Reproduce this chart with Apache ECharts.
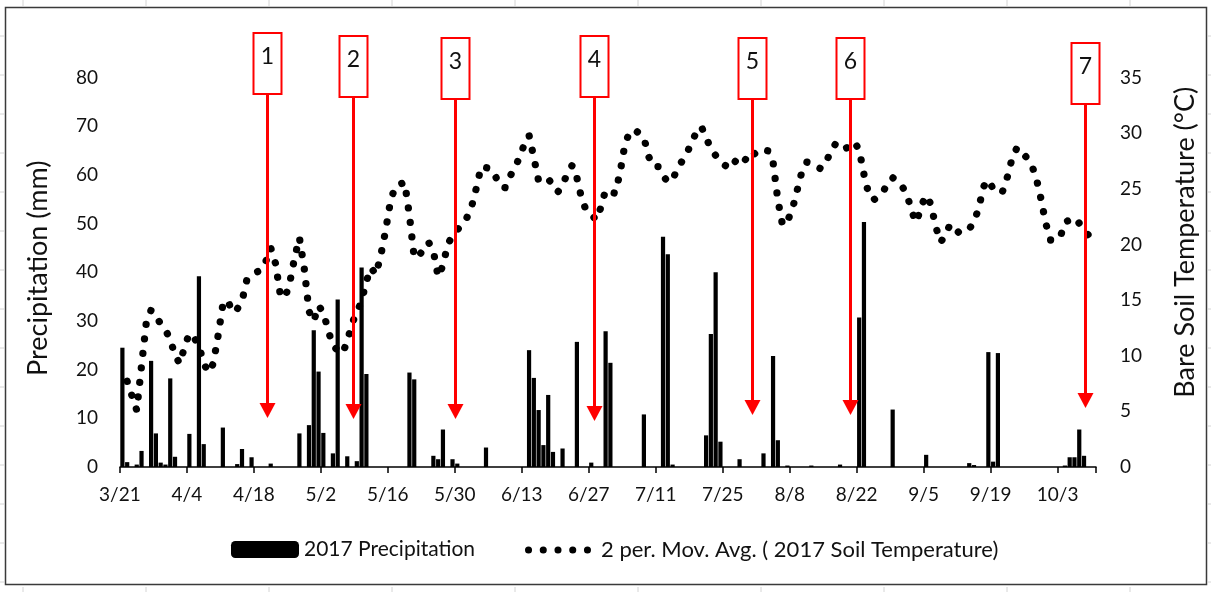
<!DOCTYPE html>
<html><head><meta charset="utf-8">
<script src="https://cdn.jsdelivr.net/npm/echarts@6/dist/echarts.min.js"></script>
<style>html,body{margin:0;padding:0;background:#fff}#c{width:1211px;height:592px}</style>
</head><body><div id="c"></div>
<script>
// ---------- DATA ----------
const startDate = [2017, 3, 21];          // first day on the axis (3/21)
const dayCount = 204;                     // 3/21 .. 10/10
const labelEvery = 14;                    // 3/21, 4/4, 4/18, ...

// daily precipitation (mm), one value per day starting 3/21
const precipitation = [
  24.5, 1.0, 0, 0.5, 3.3, 0, 21.8, 6.9, 0.9, 0.5,
  18.2, 2.1, 0, 0, 6.8, 0, 39.2, 4.7, 0, 0,
  0, 8.1, 0, 0, 0.6, 3.7, 0, 2.0, 0, 0,
  0, 0.7, 0, 0, 0, 0, 0, 6.9, 0, 8.6,
  28.1, 19.6, 7.0, 0, 2.8, 34.4, 0, 2.2, 0, 1.2,
  41.0, 19.1, 0, 0, 0, 0, 0, 0, 0, 0,
  19.4, 18.0, 0, 0, 0, 2.3, 1.6, 7.7, 0, 1.6,
  0.7, 0, 0, 0, 0, 0, 4.0, 0, 0, 0,
  0, 0, 0, 0, 0, 24.0, 18.3, 11.7, 4.5, 14.8,
  3.1, 0, 3.8, 0, 0, 25.7, 0, 0, 0.9, 0,
  0, 27.9, 21.4, 0, 0, 0, 0, 0, 0, 10.8,
  0, 0, 0, 47.3, 43.7, 0.5, 0, 0, 0, 0,
  0, 0, 6.5, 27.3, 40.0, 5.2, 0, 0, 0, 1.6,
  0, 0, 0, 0, 2.8, 0, 22.8, 5.5, 0, 0.3,
  0, 0, 0, 0, 0.3, 0, 0, 0, 0, 0,
  0.5, 0, 0, 0, 30.7, 50.3, 0, 0, 0, 0,
  0, 11.8, 0, 0, 0, 0, 0, 0, 2.5, 0,
  0, 0, 0, 0, 0, 0, 0, 0.8, 0.4, 0,
  0, 23.6, 1.1, 23.4, 0, 0, 0, 0, 0, 0,
  0, 0, 0, 0, 0, 0, 0, 0.3, 2.0, 2.0,
  7.7, 2.3, 0, 0
];

// 2-period moving average of bare soil temperature (°C), starting 3/21 (first is empty)
const soilTempMovAvg = [
  null,
  7.7, 6.4, 5.1, 9.1, 13.0, 14.1, 13.5, 12.9, 12.3, 11.5,
  10.0, 9.3, 10.8, 12.0, 11.6, 10.9, 9.3, 8.5, 9.3, 11.8,
  14.6, 15.0, 13.9, 14.2, 14.9, 16.8, 17.2, 17.5, 17.7, 18.5,
  19.7, 18.3, 15.5, 15.2, 16.6, 18.8, 20.6, 17.9, 14.0, 13.1,
  14.5, 13.9, 12.3, 10.9, 10.5, 10.2, 11.3, 12.9, 13.9, 14.9,
  16.7, 17.9, 17.3, 19.0, 21.2, 23.8, 25.2, 25.4, 25.6, 22.6,
  18.8, 19.0, 19.6, 20.2, 19.4, 17.1, 18.1, 20.0, 20.8, 21.3,
  21.8, 22.4, 23.4, 25.1, 27.0, 26.9, 26.8, 26.1, 25.2, 25.1,
  26.1, 26.9, 27.8, 29.0, 29.8, 27.8, 25.7, 25.8, 25.9, 25.3,
  24.7, 25.3, 26.4, 27.1, 26.0, 24.1, 23.0, 22.7, 22.2, 23.3,
  24.9, 24.7, 24.6, 26.4, 28.9, 30.1, 30.3, 30.0, 29.6, 27.9,
  27.0, 27.0, 26.2, 25.6, 25.8, 26.8, 27.5, 28.2, 29.2, 30.1,
  30.6, 29.6, 28.6, 28.0, 27.4, 27.1, 26.8, 27.4, 28.0, 27.7,
  27.4, 28.1, 28.5, 28.5, 28.4, 27.4, 24.0, 21.7, 22.1, 23.1,
  24.8, 26.5, 27.4, 27.3, 27.0, 26.8, 27.3, 28.3, 29.0, 29.1,
  28.6, 28.8, 29.2, 28.5, 26.3, 24.5, 24.0, 24.3, 24.7, 25.6,
  26.0, 25.7, 25.2, 24.5, 22.9, 22.0, 23.5, 24.4, 23.6, 21.6,
  20.2, 20.8, 21.8, 21.4, 21.0, 21.2, 21.4, 22.0, 23.3, 25.2,
  25.8, 25.0, 24.6, 24.8, 26.1, 27.8, 28.7, 28.3, 27.8, 27.2,
  26.0, 24.1, 21.9, 20.4, 20.4, 20.6, 22.0, 22.2, 22.4, 21.9,
  21.3, 20.8,
  null
];

// sampling events (numbered red arrows), position in days after 3/21
const sampleLabels = ['1', '2', '3', '4', '5', '6', '7'];
const sampleDays = [30.2, 48.2, 69.6, 98.6, 131.7, 152.0, 201.2];

const leftTicks = { min: 0, max: 80, interval: 10 };
const rightTicks = { min: 0, max: 35, interval: 5 };

// ---------- categories (dates) ----------
const categories = [];
{
  const d = new Date(startDate[0], startDate[1] - 1, startDate[2]);
  for (let i = 0; i < dayCount; i++) {
    categories.push((d.getMonth() + 1) + '/' + d.getDate());
    d.setDate(d.getDate() + 1);
  }
}

// ---------- STYLE / LAYOUT ----------
const FONT = 'Lato';
const TXT = '#111';
const annBoxTop = [33, 36, 38, 36, 38, 38, 43];
const annTipY = [418, 419, 419, 421, 415, 415, 408];
const annBoxW = 28, annBoxH = 61;

const chart = echarts.init(document.getElementById('c'), null, { renderer: 'canvas' });

const dotIcon = 'path://' + [0, 1, 2, 3, 4].map(k => {
  const cx = 3.5 + k * 14.6;
  return 'M' + (cx - 3.5) + ',3.5a3.5,3.5 0 1,0 7,0a3.5,3.5 0 1,0 -7,0Z';
}).join('');

chart.setOption({
  animation: false,
  backgroundColor: '#fff',
  textStyle: { fontFamily: FONT, color: TXT },
  grid: { left: 120, right: 115, top: 77.5, bottom: 125, containLabel: false },
  legend: [
    {
      data: [{ name: '2017 Precipitation', icon: 'roundRect' }],
      left: 226, top: 534, itemWidth: 68, itemHeight: 17,
      textStyle: { fontFamily: FONT, fontSize: 21, color: TXT },
      selectedMode: false
    },
    {
      data: [{ name: '2 per. Mov. Avg. ( 2017 Soil Temperature)', icon: dotIcon }],
      left: 520, top: 534, itemWidth: 66, itemHeight: 7, symbolKeepAspect: false,
      itemStyle: { color: '#000' },
      textStyle: { fontFamily: FONT, fontSize: 22, color: TXT, padding: [0, 0, 0, 5] },
      selectedMode: false
    }
  ],
  xAxis: {
    type: 'category',
    data: categories,
    boundaryGap: true,
    axisLine: { lineStyle: { color: '#000', width: 1.5 } },
    axisTick: { show: true, interval: labelEvery - 1, length: 6, lineStyle: { color: '#000', width: 1.5 } },
    axisLabel: { interval: labelEvery - 1, fontFamily: FONT, fontSize: 19, color: TXT, margin: 18, padding: [0, 5, 0, 0] },
    splitLine: { show: false }
  },
  yAxis: [
    {
      type: 'value', min: leftTicks.min, max: leftTicks.max, interval: leftTicks.interval,
      axisLine: { show: false }, axisTick: { show: false }, splitLine: { show: false },
      axisLabel: { fontFamily: FONT, fontSize: 19, color: TXT, margin: 22 },
      name: 'Precipitation (mm)', nameLocation: 'middle', nameGap: 68,
      nameTextStyle: { fontFamily: FONT, fontSize: 27, color: TXT, padding: [0, 0, 0, 8] }
    },
    {
      type: 'value', min: rightTicks.min, max: rightTicks.max, interval: rightTicks.interval,
      position: 'right',
      axisLine: { show: false }, axisTick: { show: false }, splitLine: { show: false },
      axisLabel: { fontFamily: FONT, fontSize: 19, color: TXT, margin: 24 },
      name: 'Bare Soil Temperature (°C)', nameLocation: 'middle', nameGap: 76, nameRotate: 90,
      nameTextStyle: { fontFamily: FONT, fontSize: 27, color: TXT, padding: [0, 0, 0, 60] }
    }
  ],
  series: [
    {
      name: '2017 Precipitation', type: 'bar', yAxisIndex: 0,
      data: precipitation, barCategoryGap: '12%',
      itemStyle: { color: '#000' }, z: 2
    },
    {
      name: '2 per. Mov. Avg. ( 2017 Soil Temperature)', type: 'line', yAxisIndex: 1,
      data: soilTempMovAvg, symbol: 'none', showSymbol: false, smooth: false,
      itemStyle: { color: '#000' },
      lineStyle: { color: '#000', width: 7.3, type: [0.01, 14.6], cap: 'round', join: 'round' },
      z: 3
    }
  ]
});

// ---------- annotations (numbered red arrows) ----------
function xAtDay(d) {
  const i = Math.floor(d);
  const x0 = chart.convertToPixel({ xAxisIndex: 0 }, i);
  const x1 = chart.convertToPixel({ xAxisIndex: 0 }, i + 1);
  return x0 + (d - i) * (x1 - x0);
}
const gfx = [];
// spreadsheet cell grid peeking outside the chart frame
for (let x = 23; x < 1211; x += 123) {
  gfx.push({ type: 'line', shape: { x1: x, y1: 0, x2: x, y2: 6 }, style: { stroke: '#d4d4d4', lineWidth: 1 }, silent: true });
  gfx.push({ type: 'line', shape: { x1: x, y1: 587, x2: x, y2: 592 }, style: { stroke: '#d4d4d4', lineWidth: 1 }, silent: true });
}
for (let y = 36; y < 592; y += 39) {
  gfx.push({ type: 'line', shape: { x1: 0, y1: y, x2: 4, y2: y }, style: { stroke: '#d4d4d4', lineWidth: 1 }, silent: true });
  gfx.push({ type: 'line', shape: { x1: 1208, y1: y, x2: 1211, y2: y }, style: { stroke: '#d4d4d4', lineWidth: 1 }, silent: true });
}
gfx.push({ type: 'rect', shape: { x: 5.5, y: 7.5, width: 1201, height: 577 }, style: { fill: 'none', stroke: '#3a3a3a', lineWidth: 1.5 }, silent: true, z: 0 });

sampleDays.forEach((d, k) => {
  const cx = Math.round(xAtDay(d)) + 0.5;
  const top = annBoxTop[k];
  const tip = annTipY[k];
  gfx.push({ type: 'line', z: 100, shape: { x1: cx, y1: top + annBoxH, x2: cx, y2: tip - 12 }, style: { stroke: '#ff0000', lineWidth: 3 } });
  gfx.push({ type: 'polygon', z: 100, shape: { points: [[cx - 8, tip - 15], [cx + 8, tip - 15], [cx, tip]] }, style: { fill: '#ff0000' } });
  gfx.push({ type: 'rect', z: 100, shape: { x: cx - annBoxW / 2, y: top, width: annBoxW, height: annBoxH }, style: { fill: '#fff', stroke: '#ff0000', lineWidth: 2 } });
  gfx.push({ type: 'text', z: 101, x: cx, y: top + 24, style: { text: sampleLabels[k], fill: TXT, font: '23px ' + FONT, align: 'center', verticalAlign: 'middle' } });
});
chart.setOption({ graphic: gfx });
</script>
</body></html>
